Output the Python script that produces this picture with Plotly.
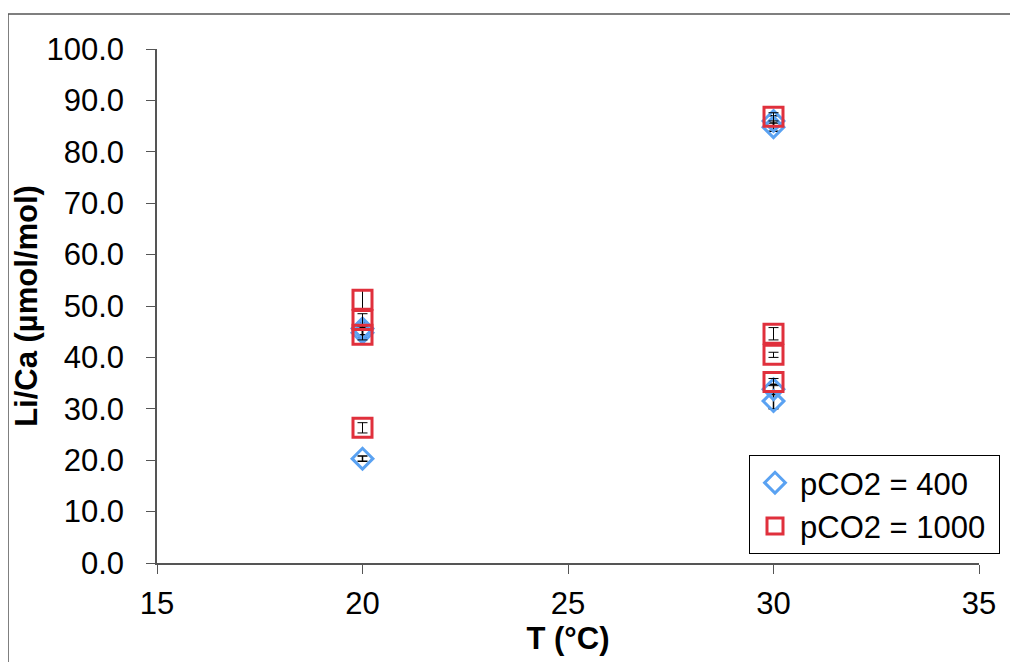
import plotly.graph_objects as go

# Data
t_400 = [20, 20, 20, 30, 30, 30, 30]
li_400 = [20.3, 45.6, 44.8, 86.0, 84.8, 33.8, 31.5]
err_400 = [0.5, 1.2, 1.0, 1.0, 0.8, 1.0, 1.5]

t_1000 = [20, 20, 20, 20, 30, 30, 30, 30]
li_1000 = [51.2, 47.3, 44.4, 26.3, 86.8, 44.6, 40.5, 35.2]
err_1000 = [2.0, 1.2, 1.0, 1.0, 0.8, 1.2, 0.5, 0.7]

series_names = ["pCO2 = 400", "pCO2 = 1000"]

x_ticks = [15, 20, 25, 30, 35]
y_ticks = [0, 10, 20, 30, 40, 50, 60, 70, 80, 90, 100]

FONT = "Liberation Sans, Arial, sans-serif"

# plot area in figure pixels (page has 8px body margin)
L, T, R, B = 149, 41, 971, 555
W, H = 1010, 654
PW, PH = R - L, B - T

fig = go.Figure()
fig.add_trace(go.Scatter(
    x=t_400, y=li_400, mode="markers", name=series_names[0], legendgroup="a",
    marker=dict(symbol="diamond-open", size=16, color="#5aa2f2", line=dict(width=3, color="#5aa2f2")),
    error_y=dict(type="data", array=err_400, color="black", thickness=1.5, width=5),
))
fig.add_trace(go.Scatter(
    x=t_1000, y=li_1000, mode="markers", name=series_names[1] + "\u00a0", legendgroup="b",
    marker=dict(symbol="square-open", size=19, color="#e0303c", line=dict(width=3, color="#e0303c")),
    error_y=dict(type="data", array=err_1000, color="black", thickness=1, width=5),
))

fig.update_layout(
    width=W, height=H,
    margin=dict(l=L, r=W - R, t=T, b=H - B, autoexpand=False),
    paper_bgcolor="white", plot_bgcolor="white",
    font=dict(family=FONT, size=31, color="black"),
    showlegend=True,
    legend=dict(x=(741 - L) / PW, y=(B - 447) / PH, xanchor="left", yanchor="top",
                bgcolor="white", bordercolor="black", borderwidth=1,
                font=dict(size=31), tracegroupgap=0, itemwidth=40),
    xaxis=dict(range=[15, 35], tickvals=x_ticks, showgrid=False, zeroline=False,
               showline=True, linecolor="#555", linewidth=1.5, automargin=False,
               ticks="outside", ticklen=9, tickcolor="#555", ticklabelstandoff=3,
               title=dict(text="<b>T (°C)</b>", font=dict(size=31), standoff=0)),
    yaxis=dict(range=[0, 100], tickvals=y_ticks, tickformat=".1f", showgrid=False, zeroline=False,
               showline=True, linecolor="#555", linewidth=1.5, automargin=False,
               ticks="outside", ticklen=9, tickcolor="#555", ticklabelstandoff=16,
               title=dict(text="<b>Li/Ca (µmol/mol)</b>", font=dict(size=31), standoff=0)),
    shapes=[dict(type="rect", xref="paper", yref="paper",
                 x0=(0 - L) / PW, x1=(1030 - L) / PW,
                 y0=-0.3, y1=(B - 6) / PH,
                 line=dict(color="#555", width=1.5), layer="below")],
)

fig.write_html("out.html")
